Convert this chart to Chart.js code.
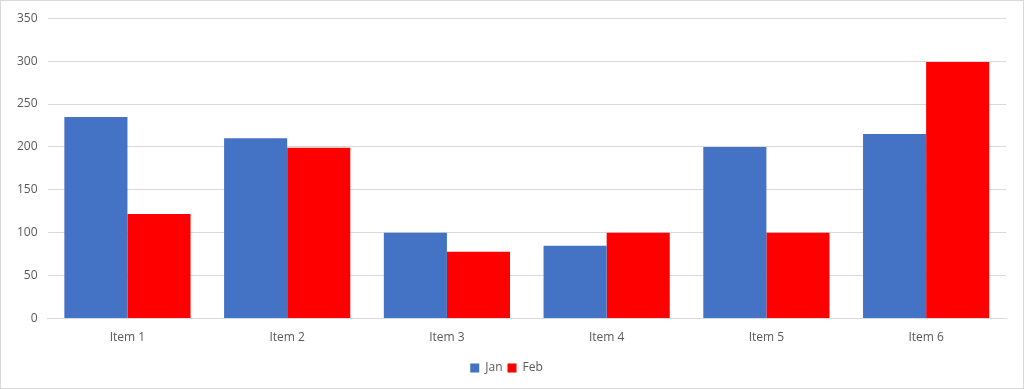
<!DOCTYPE html>
<html>
<head>
<meta charset="utf-8">
<script src="https://cdn.jsdelivr.net/npm/chart.js@4"></script>
<style>
  html, body { margin: 0; padding: 0; background: #fff; }
  .frame { position: absolute; left: 0; top: 0; width: 1022px; height: 387px; border: 1px solid #d9d9d9; }
</style>
</head>
<body>
<div class="frame"><canvas id="chart" width="1022" height="387"></canvas></div>
<script>
// chart data
const categories = ['Item 1', 'Item 2', 'Item 3', 'Item 4', 'Item 5', 'Item 6'];
const janValues = [235, 210, 100, 85, 200, 215];
const febValues = [122, 199, 78, 100, 100, 299];
const yTicks = [0, 50, 100, 150, 200, 250, 300, 350];

const ctx = document.getElementById('chart').getContext('2d');
new Chart(ctx, {
    type: 'bar',
    data: {
        labels: categories,
        datasets: [{
            label: 'Jan',
            data: janValues,
            backgroundColor: '#4472C4'
        }, {
            label: 'Feb',
            data: febValues,
            backgroundColor: '#FF0000'
        }]
    },
    options: {
        responsive: false,
        animation: false,
        categoryPercentage: 0.79,
        barPercentage: 1,
        layout: { padding: { left: 6, right: 17, top: 6, bottom: 4 } },
        font: { family: 'Open Sans' },
        plugins: {
            tooltip: { enabled: false },
            legend: {
                position: 'bottom',
                labels: {
                    boxWidth: 9,
                    boxHeight: 9,
                    padding: 5,
                    color: '#595959',
                    font: { family: 'Open Sans', size: 12 }
                }
            }
        },
        scales: {
            x: {
                grid: { display: false, drawTicks: false },
                border: { color: '#d9d9d9' },
                ticks: { color: '#595959', padding: 12, font: { family: 'Open Sans', size: 12 } }
            },
            y: {
                min: 0,
                max: 350,
                afterBuildTicks: axis => { axis.ticks = yTicks.map(v => ({ value: v })); },
                grid: { color: '#d9d9d9', drawTicks: false },
                border: { display: false },
                ticks: { color: '#595959', padding: 10, font: { family: 'Open Sans', size: 12 } }
            }
        }
    }
});
</script>
</body>
</html>
